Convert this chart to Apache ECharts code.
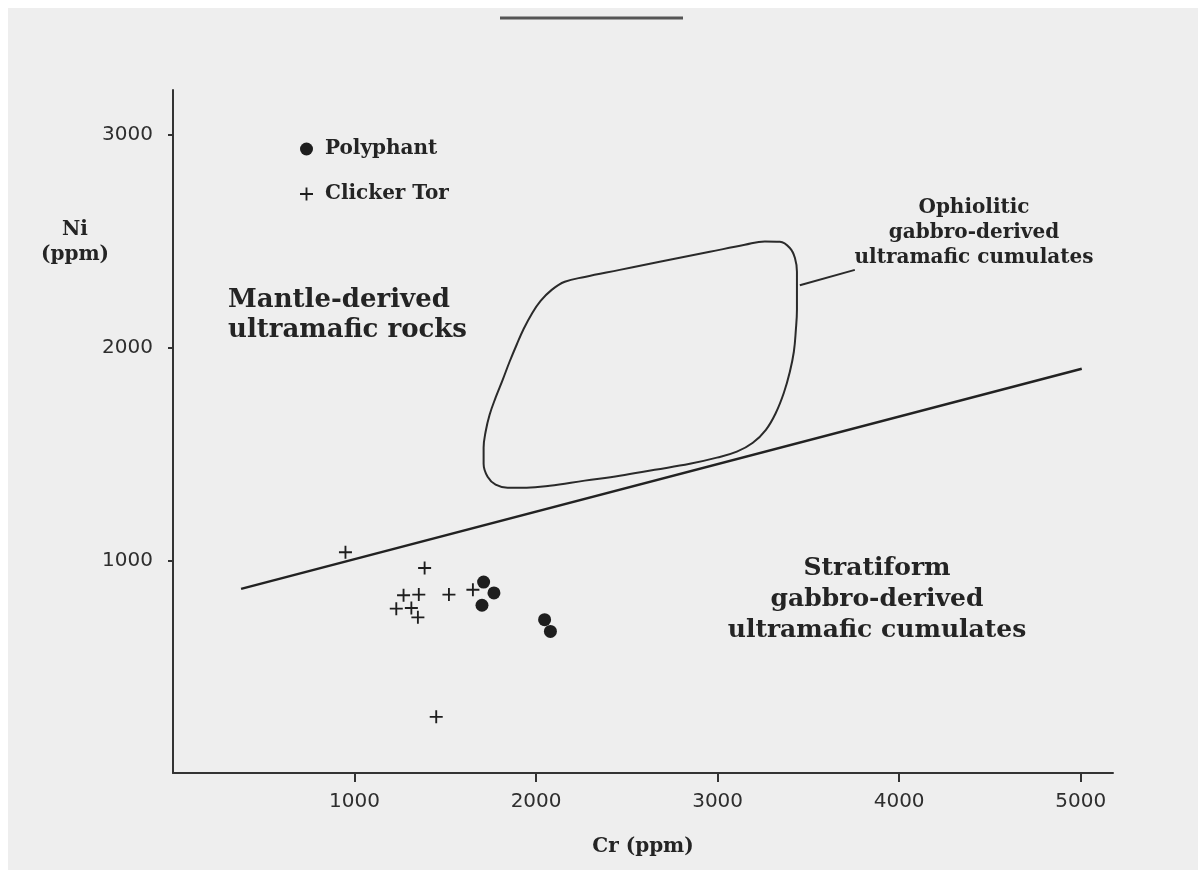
<!DOCTYPE html>
<html>
<head>
<meta charset="utf-8">
<script src="https://cdn.jsdelivr.net/npm/echarts@6/dist/echarts.min.js"></script>
<style>
html,body{margin:0;padding:0;background:#ffffff;}
#chart{width:1198px;height:870px;}
</style>
</head>
<body>
<div id="chart"></div>
<script>
// ---- data (Cr ppm, Ni ppm) ----
const polyphantCr = [1711, 1768, 1702, 2047, 2079];
const polyphantNi = [898, 847, 789, 721, 666];
const clickerCr = [950, 1386, 1270, 1354, 1230, 1313, 1349, 1520, 1652, 1450];
const clickerNi = [1038, 964, 836, 839, 773, 776, 732, 839, 862, 264];
// boundary line separating mantle-derived from stratiform cumulates
const boundaryCr = [375, 5006];
const boundaryNi = [866, 1901];
// ophiolitic cumulate field outline (closed)
const envelopeCr = [2681, 2957, 3150, 3260, 3343, 3398, 3426, 3437, 3437, 3437, 3431, 3420, 3398, 3365, 3321, 3266, 3194, 3106, 2996, 2847, 2654, 2461, 2268, 2075, 1948, 1843, 1777, 1733, 1711, 1711, 1722, 1744, 1777, 1816, 1854, 1893, 1932, 1976, 2025, 2086, 2158, 2268, 2461, 2681];
const envelopeNi = [2404, 2451, 2484, 2500, 2498, 2469, 2422, 2357, 2272, 2178, 2084, 1981, 1887, 1788, 1694, 1614, 1553, 1511, 1483, 1454, 1426, 1398, 1375, 1351, 1342, 1342, 1356, 1393, 1454, 1530, 1605, 1685, 1765, 1849, 1934, 2014, 2089, 2159, 2220, 2272, 2310, 2333, 2366, 2404];
// leader line to the "Ophiolitic" label
const leaderCr = [3453, 3756];
const leaderNi = [2294, 2366];
const xTicks = [1000, 2000, 3000, 4000, 5000];
const yTicks = [1000, 2000, 3000];
const seriesNames = ['Polyphant', 'Clicker Tor'];

const zip = (a, b) => a.map((v, i) => [v, b[i]]);
const crossPath = 'path://M6,0H8V6H14V8H8V14H6V8H0V6H6Z';
const ink = '#242424';
const serif = '"DejaVu Serif", serif';
const sans = '"DejaVu Sans", sans-serif';

const chart = echarts.init(document.getElementById('chart'));
chart.setOption({
  backgroundColor: '#ffffff',
  animation: false,
  grid: { left: 173, top: 90, right: 85, bottom: 97, containLabel: false },
  xAxis: {
    type: 'value', min: 0, max: 5178, interval: 1000,
    name: 'Cr (ppm)', nameLocation: 'middle', nameGap: 64,
    nameTextStyle: { fontFamily: serif, fontWeight: 'bold', fontSize: 20, color: ink },
    axisLine: { show: true, onZero: false, lineStyle: { color: '#333', width: 2 } },
    axisTick: { show: true, customValues: xTicks, length: 9, lineStyle: { color: '#333', width: 2 } },
    axisLabel: { customValues: xTicks, margin: 19, fontFamily: sans, fontSize: 20, color: '#2e2e2e', formatter: v => String(v) },
    splitLine: { show: false }
  },
  yAxis: {
    type: 'value', min: 0, max: 3212, interval: 1000,
    axisLine: { show: true, onZero: false, lineStyle: { color: '#333', width: 2 } },
    axisTick: { show: true, customValues: yTicks, length: 5, lineStyle: { color: '#333', width: 2 } },
    axisLabel: { customValues: yTicks, margin: 20, fontFamily: sans, fontSize: 20, color: '#2e2e2e', formatter: v => String(v) },
    splitLine: { show: false }
  },
  legend: {
    data: [{ name: seriesNames[0], icon: 'circle' }, { name: seriesNames[1], icon: crossPath }],
    orient: 'vertical', left: 295, top: 134, itemWidth: 13, itemHeight: 13, itemGap: 25,
    selectedMode: false,
    textStyle: { fontFamily: serif, fontWeight: 'bold', fontSize: 20, color: ink, lineHeight: 20, padding: [0, 0, 0, 7] }
  },
  graphic: [
    { type: 'rect', z: -10, shape: { x: 8, y: 8, width: 1190, height: 862 }, style: { fill: '#eeeeee' } },
    { type: 'line', shape: { x1: 500, y1: 18, x2: 683, y2: 18 }, style: { stroke: '#555', lineWidth: 3 } },
    { type: 'text', x: 75, y: 242, style: { text: 'Ni\n(ppm)', font: 'bold 20px ' + serif, fill: ink, align: 'center', verticalAlign: 'middle', lineHeight: 25 } },
    { type: 'text', x: 228, y: 315, style: { text: 'Mantle-derived\nultramafic rocks', font: 'bold 26px ' + serif, fill: ink, align: 'left', verticalAlign: 'middle', lineHeight: 30 } },
    { type: 'text', x: 974, y: 233, style: { text: 'Ophiolitic\ngabbro-derived\nultramafic cumulates', font: 'bold 20px ' + serif, fill: ink, align: 'center', verticalAlign: 'middle', lineHeight: 25 } },
    { type: 'text', x: 877, y: 599, style: { text: 'Stratiform\ngabbro-derived\nultramafic cumulates', font: 'bold 25px ' + serif, fill: ink, align: 'center', verticalAlign: 'middle', lineHeight: 31 } }
  ],
  series: [
    { name: 'boundary', type: 'line', data: zip(boundaryCr, boundaryNi), showSymbol: false, silent: true,
      lineStyle: { color: '#222', width: 2.5 }, z: 2 },
    { name: 'envelope', type: 'line', data: zip(envelopeCr, envelopeNi), showSymbol: false, silent: true,
      smooth: 0.4, lineStyle: { color: '#2a2a2a', width: 2 }, z: 2 },
    { name: 'leader', type: 'line', data: zip(leaderCr, leaderNi), showSymbol: false, silent: true,
      lineStyle: { color: '#2a2a2a', width: 2 }, z: 2 },
    { name: seriesNames[0], type: 'scatter', data: zip(polyphantCr, polyphantNi), symbol: 'circle', symbolSize: 13,
      itemStyle: { color: '#1e1e1e', opacity: 1 }, z: 3 },
    { name: seriesNames[1], type: 'scatter', data: zip(clickerCr, clickerNi), symbol: crossPath, symbolSize: 13,
      itemStyle: { color: '#1e1e1e', opacity: 1 }, z: 3 }
  ]
});
</script>
</body>
</html>
